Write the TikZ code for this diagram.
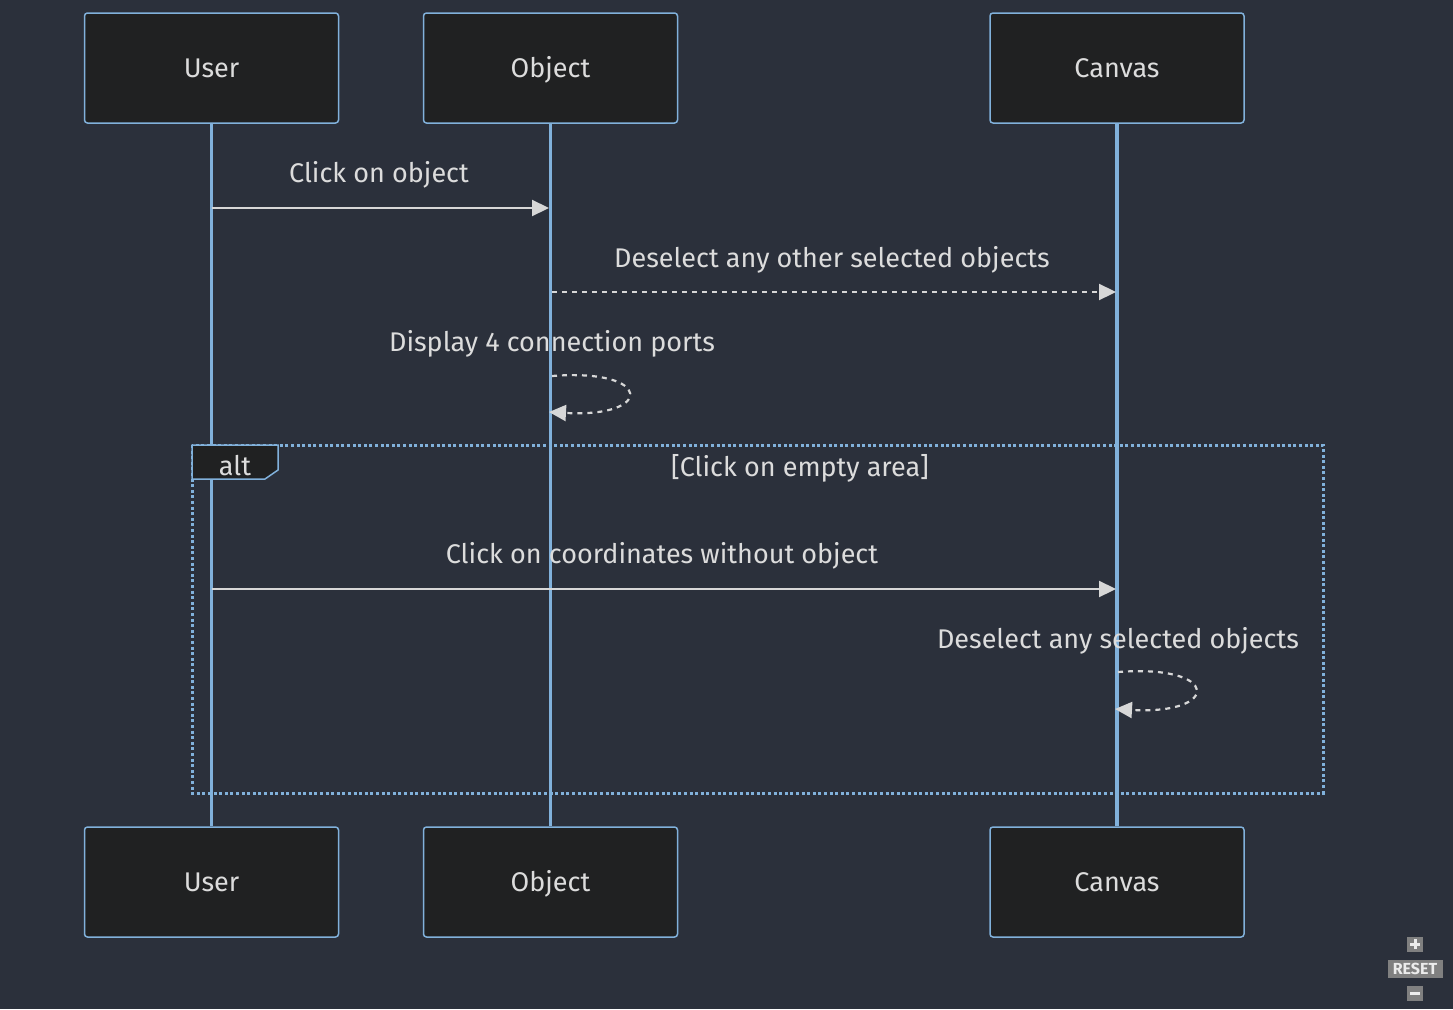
\documentclass[tikz,border=0pt]{standalone}
\usepackage{fontspec}
\setmainfont{Fira Sans}
\usetikzlibrary{arrows.meta}
\definecolor{bg}{RGB}{43,48,59}
\definecolor{actfill}{RGB}{32,33,34}
\definecolor{lblue}{RGB}{129,177,219}
\definecolor{txt}{RGB}{220,220,220}
\definecolor{msg}{RGB}{215,215,215}
\definecolor{btn}{RGB}{128,128,128}
\tikzset{
  actor/.style={draw=lblue, line width=1.5pt, fill=actfill, rounded corners=3pt,
    minimum width=254pt, minimum height=110pt, text=txt, font=\fontsize{27}{32}\selectfont,
    text height=19pt, text depth=0pt},
  lifeline/.style={draw=lblue, line width=3.2pt},
  msgline/.style={draw=msg, line width=2.2pt, -{Triangle[length=17pt,width=16pt]}},
  dashmsg/.style={msgline, dash pattern=on 5pt off 5pt},
  msglabel/.style={text=txt, font=\fontsize{27}{32}\selectfont, inner sep=0pt},
  altbox/.style={draw=lblue, line width=3pt, dash pattern=on 3pt off 2.6pt},
  btnbox/.style={fill=btn, inner sep=0pt},
}
\begin{document}
\begin{tikzpicture}[x=1pt,y=-1pt]
\useasboundingbox[fill=bg] (0,0) rectangle (1453,1009);
% actors
\node[actor] (ut) at (211.5,68) {User};
\node[actor] (ot) at (550.5,68) {Object};
\node[actor] (ct) at (1117,68) {Canvas};
\node[actor] (ub) at (211.5,882) {User};
\node[actor] (ob) at (550.5,882) {Object};
\node[actor] (cb) at (1117,882) {Canvas};
% lifelines
\draw[lifeline] (ut.south) -- (ub.north);
\draw[lifeline] (ot.south) -- (ob.north);
\draw[lifeline] (ct.south) -- (cb.north);
% alt frame
\coordinate (fa) at (192,445);
\coordinate (fb) at (1323,793);
\draw[altbox] (fa) rectangle (fb);
\draw[draw=lblue, line width=1.5pt, fill=actfill] (192,445) -- (278,445) -- (278,470) -- (265,479) -- (192,479) -- cycle;
\node[msglabel] (altl) at (235,466) {alt};
\node[msglabel] (cond) at (800,468) {[Click on empty area]};
% message 1
\coordinate (m1a) at (211.5,208);
\coordinate (m1b) at (549,208);
\draw[msgline] (m1a) -- (m1b);
\node[msglabel] (l1) at (379,175) {Click on object};
% message 2
\coordinate (m2a) at (552,292);
\coordinate (m2b) at (1116,292);
\draw[dashmsg] (m2a) -- (m2b);
\node[msglabel] (l2) at (832,260) {Deselect any other selected objects};
% self loop object
\node[msglabel] (l3) at (552,344) {Display 4 connection ports};
\coordinate (s1a) at (552,376);
\coordinate (s1b) at (549,412);
\draw[dashmsg] (s1a) .. controls (654,368) and (654,418) .. (s1b);
% message 3
\coordinate (m3a) at (211.5,589);
\coordinate (m3b) at (1116,589);
\draw[msgline] (m3a) -- (m3b);
\node[msglabel] (l4) at (662,556) {Click on coordinates without object};
% self loop canvas
\node[msglabel] (l5) at (1118,641) {Deselect any selected objects};
\coordinate (s2a) at (1118,672);
\coordinate (s2b) at (1115,709);
\draw[dashmsg] (s2a) .. controls (1221,664) and (1221,715) .. (s2b);
% reset widget
\node[btnbox, minimum width=16pt, minimum height=15pt] (plus) at (1415,944) {};
\draw[white!85!gray, line width=3pt] ([xshift=-5pt]plus.center) -- ([xshift=5pt]plus.center)
  ([yshift=-5pt]plus.center) -- ([yshift=5pt]plus.center);
\node[btnbox, minimum width=55pt, minimum height=18pt, text=white!85!gray,
  font=\bfseries\fontsize{16}{18}\selectfont] (reset) at (1415,969) {RESET};
\node[btnbox, minimum width=16pt, minimum height=15pt] (minus) at (1415,993) {};
\draw[white!85!gray, line width=3pt] ([xshift=-5pt]minus.center) -- ([xshift=5pt]minus.center);
\end{tikzpicture}
\end{document}
